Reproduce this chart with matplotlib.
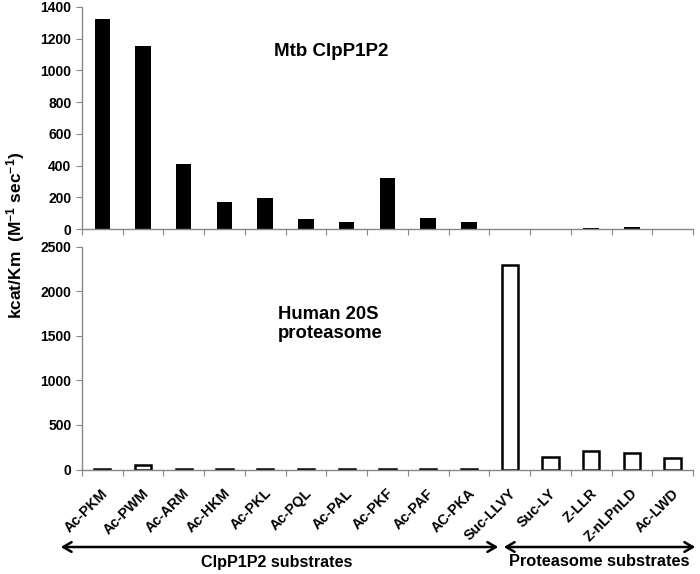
import matplotlib.pyplot as plt
from matplotlib.patches import FancyArrowPatch
import numpy as np

plt.rcParams['font.family'] = ['Liberation Sans', 'DejaVu Sans']
plt.rcParams['mathtext.default'] = 'regular'

substrates = ["Ac-PKM", "Ac-PWM", "Ac-ARM", "Ac-HKM", "Ac-PKL", "Ac-PQL",
              "Ac-PAL", "Ac-PKF", "Ac-PAF", "AC-PKA", "Suc-LLVY", "Suc-LY",
              "Z-LLR", "Z-nLPnLD", "Ac-LWD"]
clpp_vals = [1325, 1155, 408, 168, 197, 63, 42, 320, 67, 42, 0, 0, 4, 12, 0]
prot_vals = [10, 48, 8, 10, 8, 8, 8, 8, 8, 8, 2298, 138, 209, 186, 127]

x = np.arange(len(substrates))
spine_col = "#888888"

fig = plt.figure(figsize=(7, 5.74), dpi=100)
ax_top = fig.add_axes([0.117, 0.601, 0.873, 0.387])
ax_bot = fig.add_axes([0.117, 0.182, 0.873, 0.388])


def style(ax, ymax, step):
    ax.set_xlim(-0.5, len(substrates) - 0.5)
    ax.set_ylim(0, ymax)
    ax.set_yticks(np.arange(0, ymax + 1, step))
    ax.set_xticks(np.arange(-0.5, len(substrates)), labels=[])
    for s in ("top", "right"):
        ax.spines[s].set_visible(False)
    for s in ("left", "bottom"):
        ax.spines[s].set_color(spine_col)
        ax.spines[s].set_linewidth(1.0)
    ax.tick_params(axis="both", direction="out", color=spine_col,
                   length=4, labelsize=10)
    for lab in ax.get_yticklabels():
        lab.set_fontweight("bold")


ax_top.bar(x, clpp_vals, width=0.38, color="black")
style(ax_top, 1400, 200)
ax_top.text(0.314, 0.80, "Mtb ClpP1P2", transform=ax_top.transAxes,
            fontsize=13.5, fontweight="bold", ha="left", va="center")

ax_bot.bar(x, prot_vals, width=0.4, color="white", edgecolor="black",
           linewidth=1.8)
style(ax_bot, 2500, 500)
ax_bot.text(0.321, 0.653, "Human 20S\nproteasome", transform=ax_bot.transAxes,
            fontsize=13.3, fontweight="bold", ha="left", va="center",
            linespacing=1.15)

# category labels below bottom axes
for xi, name in zip(x, substrates):
    ax_bot.annotate(name, xy=(xi, 0), xycoords=("data", "axes fraction"),
                    xytext=(-1, -12), textcoords="offset points",
                    rotation=45, ha="right", va="top", fontsize=10.3,
                    fontweight="bold", rotation_mode="anchor")

fig.text(0.022, 0.59, "kcat/Km  (M$^{-1}$ sec$^{-1}$)", rotation=90,
         ha="center", va="center", fontsize=12.5, fontweight="bold")

# substrate group arrows
arrow_y = 1 - 547 / 574
fig.add_artist(FancyArrowPatch(
    (58 / 700, arrow_y), (501 / 700, arrow_y), transform=fig.transFigure,
    arrowstyle="<->,head_length=6,head_width=3.5", color="black", lw=1.8))
fig.add_artist(FancyArrowPatch(
    (501 / 700, arrow_y), (698 / 700, arrow_y), transform=fig.transFigure,
    arrowstyle="<->,head_length=6,head_width=3.5", color="black", lw=1.8))
fig.text(277 / 700, 1 - 563 / 574, "ClpP1P2 substrates", ha="center",
         va="center", fontsize=11.6, fontweight="bold")
fig.text(599 / 700, 1 - 561 / 574, "Proteasome substrates", ha="center",
         va="center", fontsize=11.8, fontweight="bold")

fig.savefig("out.png", dpi=100)
